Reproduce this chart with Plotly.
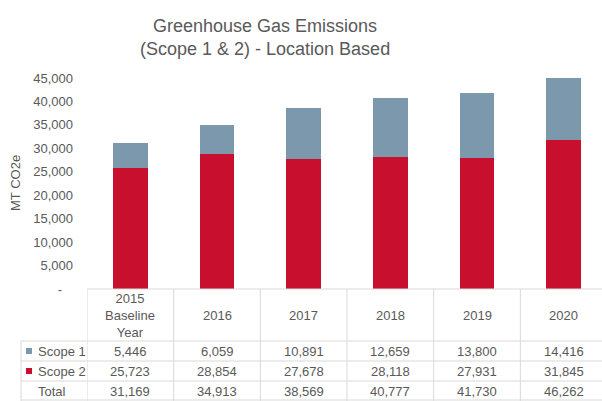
import plotly.graph_objects as go

# Emissions data (metric tonnes CO2e)
years = ["2015<br>Baseline<br>Year", "2016", "2017", "2018", "2019", "2020"]
scope1 = [5446, 6059, 10891, 12659, 13800, 14416]
scope2 = [25723, 28854, 27678, 28118, 27931, 31845]
totals = [31169, 34913, 38569, 40777, 41730, 46262]
y_ticks = [0, 5000, 10000, 15000, 20000, 25000, 30000, 35000, 40000, 45000]

C_SCOPE1 = "#7B98AD"
C_SCOPE2 = "#C8102E"
TXT = "#595959"
GRID = "#D9D9D9"
FONT = "Liberation Sans, Arial, sans-serif"

W, H = 602, 401
L, T, B = 87, 78, 112
PLOT_W = W - L
PLOT_H = H - T - B
COL_PX = 86.67  # width of one category slot in pixels


def py(yp):
    """pixel row -> paper y (plot area based)"""
    return (H - B - yp) / PLOT_H


def px(xp):
    """pixel column -> paper x (plot area based)"""
    return (xp - L) / PLOT_W


xs = list(range(len(years)))
x_max = -0.5 + PLOT_W / COL_PX

fig = go.Figure()
fig.add_trace(go.Bar(x=xs, y=scope2, name="Scope 2", marker_color=C_SCOPE2,
                     width=0.4, marker_line_width=0))
fig.add_trace(go.Bar(x=xs, y=scope1, name="Scope 1", marker_color=C_SCOPE1,
                     width=0.4, marker_line_width=0))

tick_text = ["-\u00a0\u00a0\u00a0"] + [f"{v:,}" for v in y_ticks[1:]]

fig.update_layout(
    width=W, height=H,
    margin=dict(l=L, r=0, t=T, b=B, pad=0),
    barmode="stack",
    showlegend=False,
    plot_bgcolor="white", paper_bgcolor="white",
    font=dict(family=FONT, color=TXT, size=13),
    xaxis=dict(range=[-0.5, x_max], showticklabels=False, showgrid=False,
               zeroline=False, showline=False, ticks=""),
    yaxis=dict(range=[0, 45000], tickvals=y_ticks, ticktext=tick_text,
               showgrid=False, zeroline=False, showline=False, ticks="",
               ticklabelstandoff=13, tickfont=dict(size=13, color=TXT)),
)

# Chart title
fig.add_annotation(text="Greenhouse Gas Emissions<br>(Scope 1 & 2) - Location Based",
                   xref="paper", yref="paper", x=px(265), y=py(37),
                   showarrow=False, xanchor="center", yanchor="middle",
                   font=dict(size=18, color=TXT, family=FONT))

# Axis title
fig.add_annotation(text="MT CO2e", xref="paper", yref="paper",
                   x=px(15), y=py(183), textangle=-90, showarrow=False,
                   font=dict(size=13, color=TXT), xanchor="center", yanchor="middle")

# Data table below the chart
row_tops = [289, 341, 361, 381, 400]
line = dict(color=GRID, width=1)

# horizontal rules
fig.add_shape(type="line", xref="paper", yref="paper",
              x0=0, x1=1, y0=py(row_tops[0]), y1=py(row_tops[0]), line=line)
for yp in row_tops[1:]:
    fig.add_shape(type="line", xref="paper", yref="paper",
                  x0=px(21), x1=1, y0=py(yp), y1=py(yp), line=line)

# vertical rules at category boundaries
for i in range(len(years) + 1):
    fig.add_shape(type="line", xref="x", yref="paper",
                  x0=i - 0.5, x1=i - 0.5, y0=py(289), y1=py(401), line=line)
fig.add_shape(type="line", xref="paper", yref="paper",
              x0=px(21), x1=px(21), y0=py(341), y1=py(401), line=line)

# column headers
for i, lab in enumerate(years):
    fig.add_annotation(text=lab, xref="x", yref="paper", x=i, y=py(315),
                       showarrow=False, xanchor="center", yanchor="middle",
                       font=dict(size=13, color=TXT))

# row labels with colour keys
rows = [("Scope 1", scope1, C_SCOPE1, 351), ("Scope 2", scope2, C_SCOPE2, 371),
        ("Total", totals, None, 391)]
for name, vals, col, yc in rows:
    fig.add_annotation(text=name, xref="paper", yref="paper", x=px(35.5), y=py(yc),
                       showarrow=False, xanchor="left", yanchor="middle",
                       font=dict(size=13, color=TXT))
    if col:
        fig.add_shape(type="rect", xref="paper", yref="paper",
                      x0=px(26), x1=px(32), y0=py(yc - 3), y1=py(yc + 3),
                      fillcolor=col, line_width=0)
    for i, v in enumerate(vals):
        fig.add_annotation(text=f"{v:,}", xref="x", yref="paper", x=i, y=py(yc),
                           showarrow=False, xanchor="center", yanchor="middle",
                           font=dict(size=13, color=TXT))

fig.write_html("out.html")
